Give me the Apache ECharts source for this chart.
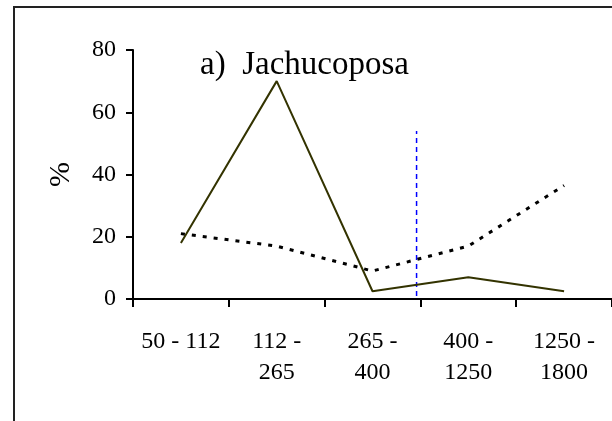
<!DOCTYPE html>
<html>
<head>
<meta charset="utf-8">
<script src="https://cdn.jsdelivr.net/npm/echarts@6/dist/echarts.min.js"></script>
<style>
  html, body { margin: 0; padding: 0; background: #fff; }
  #main { width: 612px; height: 421px; }
</style>
</head>
<body>
<div id="main"></div>
<script>
// categories (size classes) and the two series, in %
var categories = ['50 - 112', '112 -\n265', '265 -\n400', '400 -\n1250', '1250 -\n1800'];
var solidValues = [18, 70, 2.5, 7, 2.5];
var dottedValues = [21, 17, 9, 17, 36.5];
// blue dashed reference line: position on the category scale (0..5) and its extent in %
var refLineX = [2.96, 2.96];
var refLineY = [1, 54];
var yTicks = [0, 20, 40, 60, 80];

var myChart = echarts.init(document.getElementById('main'));
var font = '"Liberation Serif", "Times New Roman", serif';

var option = {
    animation: false,
    backgroundColor: '#fff',
    title: {
        text: 'a)  Jachucoposa',
        left: 195,
        top: 44,
        textStyle: { fontFamily: font, fontSize: 33, fontWeight: 'normal', color: '#000' }
    },
    graphic: [{
        // outer frame (left and top edges visible)
        type: 'rect',
        shape: { x: 14, y: 7, width: 700, height: 500 },
        style: { fill: 'none', stroke: '#222', lineWidth: 2 },
        silent: true
    }],
    grid: {
        left: 133,
        top: 50,
        width: 485,
        height: 249
    },
    xAxis: [{
        type: 'category',
        data: categories,
        boundaryGap: true,
        axisLine: { lineStyle: { color: '#000', width: 2 } },
        axisTick: { show: true, interval: 0, length: 8, lineStyle: { color: '#000', width: 2 } },
        axisLabel: {
            interval: 0,
            margin: 27,
            fontFamily: font,
            fontSize: 24,
            color: '#000',
            lineHeight: 31
        },
        splitLine: { show: false }
    }, {
        type: 'value',
        min: 0,
        max: 5,
        show: false
    }],
    yAxis: {
        type: 'value',
        min: yTicks[0],
        max: yTicks[yTicks.length - 1],
        interval: 20,
        name: '%',
        nameLocation: 'middle',
        nameRotate: 90,
        nameGap: 57,
        nameTextStyle: { fontFamily: font, fontSize: 30, color: '#000' },
        axisLine: { show: true, lineStyle: { color: '#000', width: 2 } },
        axisTick: { show: true, length: 7, lineStyle: { color: '#000', width: 2 } },
        axisLabel: { margin: 17, fontFamily: font, fontSize: 24, color: '#000' },
        splitLine: { show: false }
    },
    series: [{
        type: 'line',
        data: solidValues,
        showSymbol: false,
        lineStyle: { color: '#333300', width: 2 },
        z: 3
    }, {
        type: 'line',
        data: dottedValues,
        showSymbol: false,
        lineStyle: { color: '#000', width: 3, type: [4, 7] },
        z: 4
    }, {
        type: 'line',
        xAxisIndex: 1,
        data: refLineY.map(function (v, i) { return [refLineX[i], v]; }),
        showSymbol: false,
        lineStyle: { color: '#0000ff', width: 1.5, type: [5, 4] },
        z: 2
    }]
};

myChart.setOption(option);
window.addEventListener('resize', function () {
    myChart.resize();
});
</script>
</body>
</html>
